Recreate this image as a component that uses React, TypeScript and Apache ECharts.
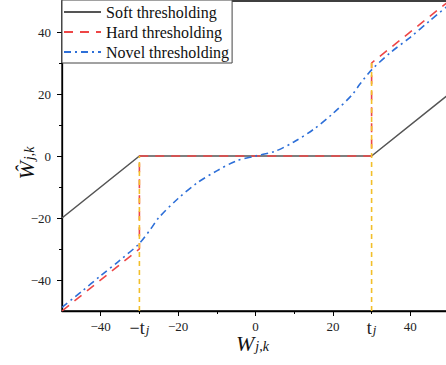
import React, { useEffect, useRef } from 'react';
import * as echarts from 'echarts';

const X_MIN = -50;
const X_MAX = 50;
const Y_MIN = -50;
const Y_MAX = 50;

const seriesNames = ['Soft thresholding', 'Hard thresholding', 'Novel thresholding'];

const softX = [-50, -30, 30, 50];
const softY = [-20, 0, 0, 20];

const hardX = [-50, -30, -30, 30, 30, 50];
const hardY = [-50, -30, 0, 0, 30, 50];

const novelX = [-50, -45, -40, -35, -30, -27, -25, -20, -15, -10, -5, 0, 5, 10, 15, 20, 25, 27, 30, 35, 40, 45, 50];
const novelY = [-48.8, -43.8, -38.6, -33.6, -28.2, -23.4, -19.9, -13.7, -8.6, -4.8, -1.6, 0, 1.5, 4.6, 8.6, 13.7, 19.8, 23.2, 27.8, 33.5, 38.3, 43.6, 48.8];

const guideX = [-30, 30];
const guideTop = [0, 30];
const guideBottom = -50;

const xMajorTicks = [-40, -20, 0, 20, 40];
const xMinorTicks = [-30, -10, 10, 30];
const xLabelValues = [-40, -30, -20, 0, 20, 30, 40];
const yMajorTicks = [-40, -20, 0, 20, 40];
const yMinorTicks = [-30, -10, 10, 30];

const zip = (xs: number[], ys: number[]) => xs.map((x, i) => [x, ys[i]]);
const serif = "'Liberation Serif', 'Times New Roman', serif";
const fmtNum = (v: number) => (v < 0 ? '\u2212' + Math.abs(v) : String(v));

export default function App() {
  const ref = useRef<HTMLDivElement>(null);
  useEffect(() => {
    document.body.style.margin = '0';
    if (!ref.current) return;
    const chart = echarts.init(ref.current, undefined, { renderer: 'svg' });
    const axisLineStyle = { color: '#000', width: 1.3 };
    const tickStyle = { color: '#000', width: 1 };
    const titleRich = {
      w: { fontFamily: serif, fontSize: 22, fontStyle: 'italic', color: '#111', lineHeight: 20 },
      s: { fontFamily: serif, fontSize: 14, fontStyle: 'italic', color: '#111', lineHeight: 12, padding: [10, 0, 0, 1], verticalAlign: 'bottom' },
    };
    const option: any = {
      animation: false,
      backgroundColor: '#fff',
      grid: {
        left: 62, top: 1, width: 387, height: 310,
        containLabel: false, outerBoundsMode: 'none',
        show: true, borderColor: '#000', borderWidth: 1.3,
      },
      legend: {
        orient: 'vertical',
        left: 62,
        top: 0,
        padding: [2, 3, 1, 1],
        itemWidth: 37,
        itemHeight: 20,
        itemGap: 0,
        borderColor: '#444',
        borderWidth: 1,
        borderRadius: 0,
        backgroundColor: '#fff',
        itemStyle: { opacity: 0 },
        textStyle: { fontFamily: serif, fontSize: 16, color: '#111', lineHeight: 20 },
        data: seriesNames,
      },
      xAxis: [
        {
          type: 'value', min: X_MIN, max: X_MAX, position: 'bottom',
          splitLine: { show: false },
          axisLine: { onZero: false, lineStyle: axisLineStyle },
          axisTick: { customValues: xMajorTicks, length: 5, lineStyle: tickStyle },
          axisLabel: {
            customValues: xLabelValues,
            margin: 9,
            color: '#222',
            fontFamily: serif,
            fontSize: 13,
            formatter: (v: number) => {
              if (v === -30) return '{t|\u2212t}{j|j}';
              if (v === 30) return '{t|t}{j|j}';
              return fmtNum(v);
            },
            rich: {
              t: { fontFamily: serif, fontSize: 18, lineHeight: 16, color: '#222' },
              j: { fontFamily: serif, fontSize: 13, fontStyle: 'italic', lineHeight: 12, padding: [8, 0, 0, 1], verticalAlign: 'bottom', color: '#222' },
            },
          },
          name: '{w|W}{s|j,k}',
          nameLocation: 'middle',
          nameMoveOverlap: false,
          nameGap: 22,
          nameTextStyle: { padding: [0, 6, 0, 0], rich: titleRich },
        },
        {
          type: 'value', min: X_MIN, max: X_MAX, position: 'bottom',
          splitLine: { show: false },
          axisLine: { show: false, onZero: false },
          axisTick: { customValues: xMinorTicks, length: 3, lineStyle: tickStyle },
          axisLabel: { show: false },
        },
      ],
      yAxis: [
        {
          type: 'value', min: Y_MIN, max: Y_MAX, position: 'left',
          splitLine: { show: false },
          axisLine: { onZero: false, lineStyle: axisLineStyle },
          axisTick: { customValues: yMajorTicks, length: 5, lineStyle: tickStyle },
          axisLabel: { customValues: yMajorTicks, margin: 11, color: '#222', fontFamily: serif, fontSize: 13, formatter: fmtNum },
          name: '{w|\u0174}{s|j,k}',
          nameLocation: 'middle',
          nameMoveOverlap: false,
          nameGap: 26,
          nameTextStyle: { padding: [0, 14, 0, 0], rich: titleRich },
        },
        {
          type: 'value', min: Y_MIN, max: Y_MAX, position: 'left',
          splitLine: { show: false },
          axisLine: { show: false, onZero: false },
          axisTick: { customValues: yMinorTicks, length: 3, lineStyle: tickStyle },
          axisLabel: { show: false },
        },
      ],
      series: [
        {
          name: seriesNames[0], type: 'line', symbol: 'none', data: zip(softX, softY),
          lineStyle: { color: '#555555', width: 1.6 }, itemStyle: { color: '#555555' },
        },
        {
          name: seriesNames[1], type: 'line', symbol: 'none', data: zip(hardX, hardY),
          lineStyle: { color: '#ee4646', width: 1.6, type: [9, 7] }, itemStyle: { color: '#ee4646' },
        },
        {
          name: seriesNames[2], type: 'line', symbol: 'none', smooth: 0.3, data: zip(novelX, novelY),
          lineStyle: { color: '#2d6fd8', width: 1.6, type: [7, 4, 2, 4] }, itemStyle: { color: '#2d6fd8' },
        },
        ...guideX.map((gx, i) => ({
          name: 'guide' + i, type: 'line', symbol: 'none', silent: true,
          data: [[gx, guideBottom], [gx, guideTop[i]]],
          lineStyle: { color: '#f2bf2a', width: 1.6, type: [5, 4] },
        })),
      ],
    };
    chart.setOption(option);
    return () => chart.dispose();
  }, []);
  return <div ref={ref} style={{ width: 446, height: 365 }} />;
}
